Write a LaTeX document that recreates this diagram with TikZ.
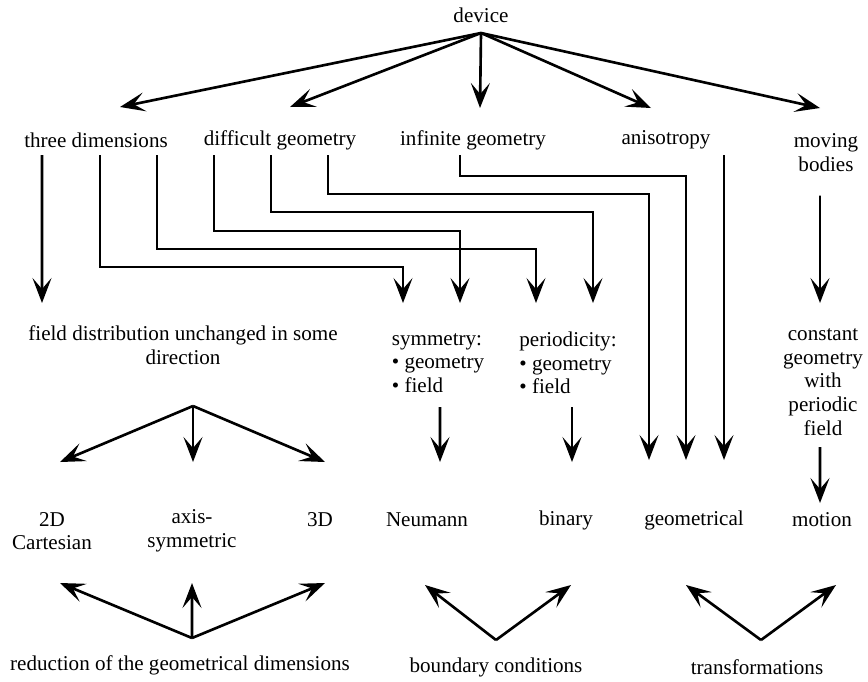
\documentclass[tikz,border=0pt]{standalone}
\usepackage{fontspec}
\setmainfont{Liberation Serif}
\usetikzlibrary{arrows.meta}
\tikzset{
  lbl/.style={align=center,inner sep=1pt},
  lst/.style={align=left,inner sep=1pt},
  flow/.style={-{Stealth[length=5mm,width=3.8mm,inset=2.2mm]},line width=1.5pt},
  route/.style={-{Stealth[length=5mm,width=3.8mm,inset=2.2mm]},line width=1pt},
}

\begin{document}
\begin{tikzpicture}[font=\fontsize{12}{13.5}\selectfont]
			\useasboundingbox (0,0) rectangle (17.36,-13.62);
			% problem features
			\node[lbl] (dev) at (9.62,-0.30) {device};
			\node[lbl] (threedim) at (1.92,-2.80) {three dimensions};
			\node[lbl] (diffgeo) at (5.60,-2.80) {difficult geometry};
			\node[lbl] (infgeo) at (9.46,-2.80) {infinite geometry};
			\node[lbl] (aniso) at (13.32,-2.80) {anisotropy};
			\node[lbl] (moving) at (16.52,-3.05) {moving\\bodies};
			% what can be exploited
			\node[lbl] (field) at (3.66,-6.90) {field distribution unchanged in some\\direction};
			\node[lst] (symm) at (8.76,-7.26) {symmetry:\\\textbullet\ geometry\\\textbullet\ field};
			\node[lst] (perio) at (11.36,-7.26) {periodicity:\\\textbullet\ geometry\\\textbullet\ field};
			\node[lbl] (const) at (16.46,-7.64) {constant\\geometry\\with\\periodic\\field};
			% techniques
			\node[lbl] (cart) at (1.04,-10.62) {2D\\Cartesian};
			\node[lbl] (axis) at (3.84,-10.62) {axis-\\symmetric};
			\node[lbl] (three) at (6.40,-10.40) {3D};
			\node[lbl] (neum) at (8.54,-10.40) {Neumann};
			\node[lbl] (binary) at (11.32,-10.40) {binary};
			\node[lbl] (geom) at (13.88,-10.40) {geometrical};
			\node[lbl] (motion) at (16.44,-10.40) {motion};
			% groups
			\node[lbl] (reduct) at (3.60,-13.30) {reduction of the geometrical dimensions};
			\node[lbl] (bound) at (9.92,-13.34) {boundary conditions};
			\node[lbl] (transf) at (15.14,-13.34) {transformations};
			% fan out from the device
			\draw[flow] ([shift={(0,-0.36)}]dev.center)--([shift={(0.48,0.66)}]threedim.center);
			\draw[flow] ([shift={(0,-0.36)}]dev.center)--([shift={(0.20,0.66)}]diffgeo.center);
			\draw[flow] ([shift={(0,-0.36)}]dev.center)--([shift={(0.14,0.64)}]infgeo.center);
			\draw[flow] ([shift={(0,-0.36)}]dev.center)--([shift={(-0.30,0.64)}]aniso.center);
			\draw[flow] ([shift={(0,-0.36)}]dev.center)--([shift={(-0.12,0.89)}]moving.center);
			% links down to the second row
			\draw[flow] ([shift={(-1.08,-0.30)}]threedim.center)--([shift={(-2.82,0.84)}]field.center);
			\draw[route] ([shift={(0.08,-0.30)}]threedim.center)--++(0,-2.24)-|([shift={(-0.70,1.20)}]symm.center);
			\draw[route] ([shift={(1.22,-0.30)}]threedim.center)--++(0,-1.88)-|([shift={(-0.64,1.20)}]perio.center);
			\draw[route] ([shift={(-1.32,-0.30)}]diffgeo.center)--++(0,-1.52)-|([shift={(0.44,1.20)}]symm.center);
			\draw[route] ([shift={(-0.18,-0.30)}]diffgeo.center)--++(0,-1.14)-|([shift={(0.50,1.20)}]perio.center);
			\draw[route] ([shift={(0.96,-0.30)}]diffgeo.center)--++(0,-0.78)-|([shift={(-0.90,1.20)}]geom.center);
			\draw[route] ([shift={(-0.26,-0.30)}]infgeo.center)--++(0,-0.42)-|([shift={(-0.16,1.20)}]geom.center);
			\draw[route] ([shift={(1.16,-0.30)}]aniso.center)--([shift={(0.60,1.20)}]geom.center);
			\draw[route] ([shift={(-0.12,-0.86)}]moving.center)--([shift={(-0.06,1.58)}]const.center);
			% second row to techniques
			\draw[flow] ([shift={(0.20,-1.22)}]field.center)--([shift={(0.16,1.38)}]cart.center);
			\draw[flow] ([shift={(0.20,-1.22)}]field.center)--([shift={(0.02,1.38)}]axis.center);
			\draw[flow] ([shift={(0.20,-1.22)}]field.center)--([shift={(0.10,1.16)}]three.center);
			\draw[flow] ([shift={(0.04,-0.88)}]symm.center)--([shift={(0.26,1.16)}]neum.center);
			\draw[flow] ([shift={(0.08,-0.88)}]perio.center)--([shift={(0.12,1.16)}]binary.center);
			\draw[flow] ([shift={(-0.06,-1.30)}]const.center)--([shift={(-0.04,0.34)}]motion.center);
			% groups point up at their techniques
			\draw[flow] ([shift={(0.24,0.54)}]reduct.center)--([shift={(0.16,-1.04)}]cart.center);
			\draw[flow] ([shift={(0.24,0.54)}]reduct.center)--([shift={(0,-1.04)}]axis.center);
			\draw[flow] ([shift={(0.24,0.54)}]reduct.center)--([shift={(0.10,-1.26)}]three.center);
			\draw[flow] ([shift={(0,0.54)}]bound.center)--([shift={(-0.04,-1.30)}]neum.center);
			\draw[flow] ([shift={(0,0.54)}]bound.center)--([shift={(0.10,-1.30)}]binary.center);
			\draw[flow] ([shift={(0.08,0.54)}]transf.center)--([shift={(-0.16,-1.30)}]geom.center);
			\draw[flow] ([shift={(0.08,0.54)}]transf.center)--([shift={(0.28,-1.30)}]motion.center);
		\end{tikzpicture}
\end{document}
